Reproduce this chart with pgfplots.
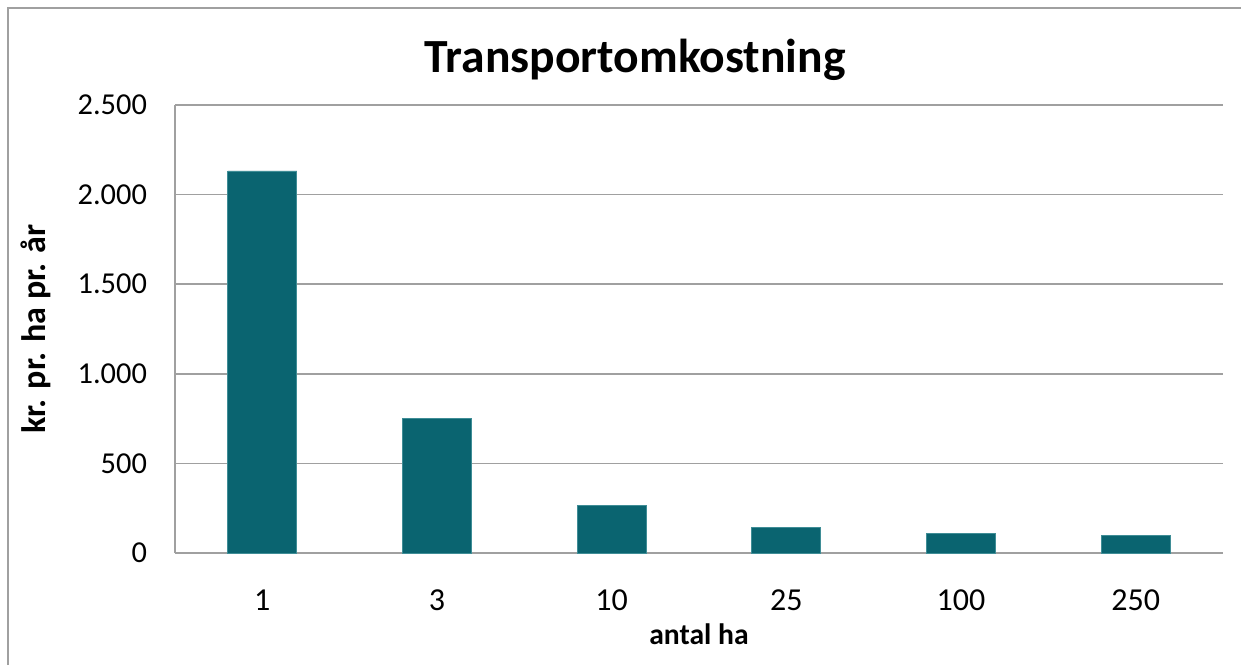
\documentclass[border=0pt]{standalone}
\usepackage{pgfplots}
\pgfplotsset{compat=1.18}
\usepackage{fontspec}
\setmainfont{Carlito}
\definecolor{barteal}{HTML}{0A6470}
\definecolor{baredge}{HTML}{3F8D96}
\definecolor{gridgray}{HTML}{A0A0A0}
\begin{document}
\begin{tikzpicture}
\path[use as bounding box] (0,0) rectangle (620.5pt,332.5pt);
\draw[gridgray, line width=0.9pt] (4pt,0pt) -- (4pt,328.5pt) -- (620.5pt,328.5pt);
\begin{axis}[
  at={(87.5pt,56pt)}, anchor=south west,
  scale only axis, width=524pt, height=224pt,
  ybar, bar width=34.5pt,
  xmin=-0.5, xmax=5.5, ymin=0, ymax=2500,
  xtick=data, xticklabels={1,3,10,25,100,250},
  ytick={0,500,1000,1500,2000,2500},
  axis x line*=bottom, axis y line*=left,
  axis line style={gridgray, line width=0.9pt, -},
  ymajorgrids, grid style={gridgray, line width=0.8pt},
  major tick length=0pt,
  yticklabel style={font=\fontsize{15.2}{17}\selectfont},
  xticklabel style={font=\fontsize{16}{18}\selectfont},
  /pgf/number format/assume math mode=true,
  /pgf/number format/.cd, 1000 sep={.}, /pgfplots/.cd,
  yticklabel shift=10.5pt,
  xticklabel shift=15pt,
  xlabel={antal ha},
  ylabel={kr. pr. ha pr. år},
  every axis x label/.style={at={(axis description cs:0.5,0)}, anchor=center, yshift=-40.5pt, font=\bfseries\fontsize{14.8}{18}\selectfont},
  every axis y label/.style={at={(axis description cs:0,0.5)}, xshift=-69.5pt, rotate=90, anchor=center, font=\bfseries\fontsize{17}{20}\selectfont},
]
\addplot[fill=barteal, draw=baredge, line width=0.4pt] coordinates {
  (0,2132) (1,753) (2,264) (3,145) (4,110) (5,100)
};
\end{axis}
\node[font=\bfseries\fontsize{23.8}{28}\selectfont] at (317.5pt,302.5pt) {Transportomkostning};
\end{tikzpicture}
\end{document}
